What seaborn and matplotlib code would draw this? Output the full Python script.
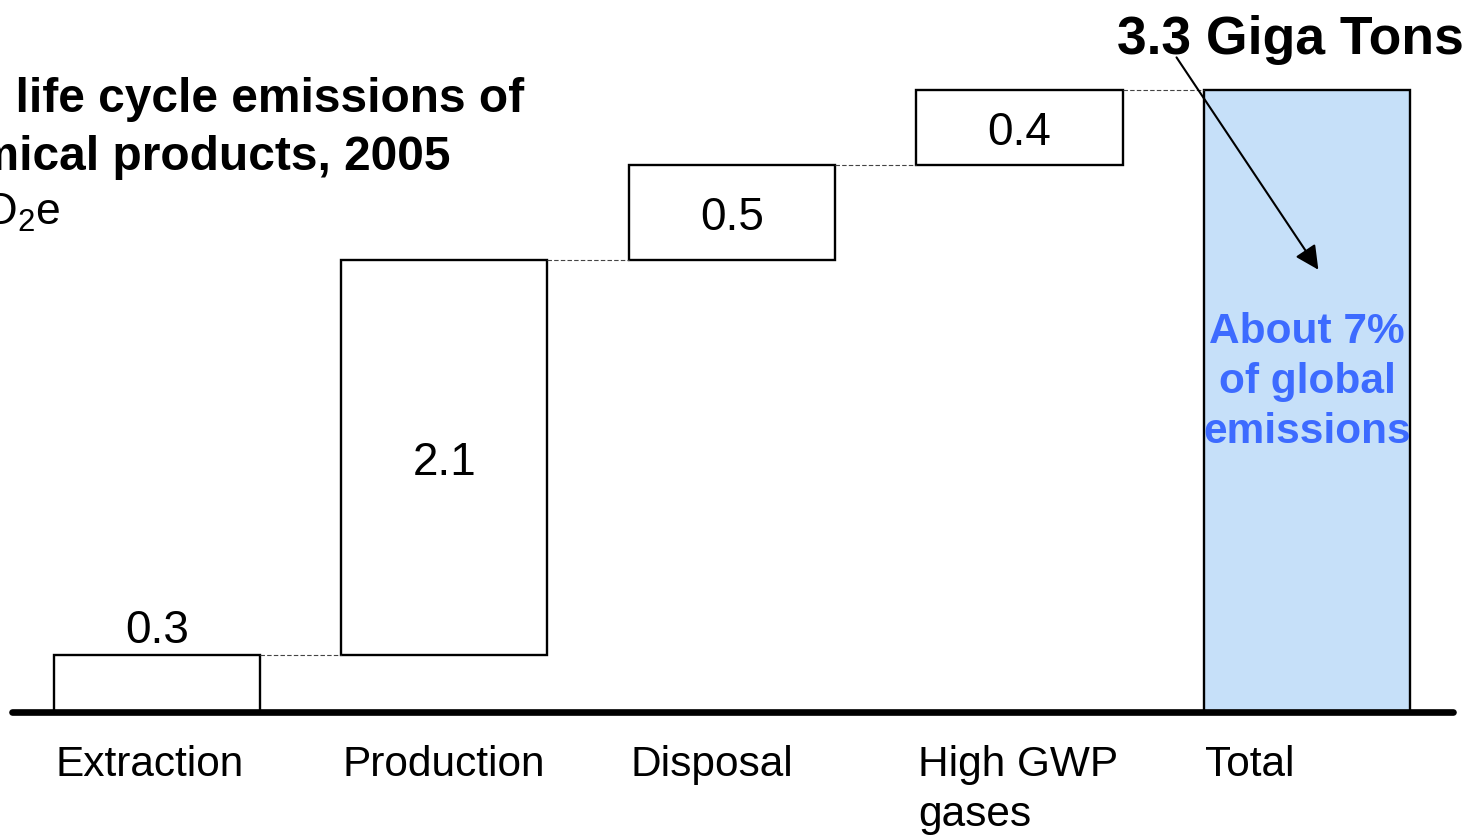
import numpy as np
import pandas as pd
import matplotlib
matplotlib.use("Agg")
import matplotlib.pyplot as plt
import seaborn as sns

# datos del grafico (cascada)
categorias = ["Extraction", "Production", "Disposal", "High GWP\ngases", "Total"]
valores = [0.3, 2.1, 0.5, 0.4, 3.3]
etiquetas = ["0.3", "2.1", "0.5", "0.4", ""]

# base de cada barra: acumulado de las anteriores, el total parte de cero
acumulado = np.cumsum(valores[:-1])
bases = [0.0] + list(acumulado[:-1]) + [0.0]

df = pd.DataFrame({"cat": categorias, "valor": valores, "base": bases})

sns.set_style("white")
plt.rcParams["font.family"] = ["Liberation Sans", "DejaVu Sans"]
plt.rcParams["text.color"] = "black"
plt.rcParams["mathtext.fontset"] = "custom"
plt.rcParams["mathtext.rm"] = "Liberation Sans"

fig = plt.figure(figsize=(14.81, 8.38), dpi=100)
ax = fig.add_axes([12 / 1481, 126 / 838, 1441 / 1481, 659.75 / 838])

ancho = 0.717
sns.barplot(data=df, x="cat", y="valor", bottom=df["base"].values, color="white",
            edgecolor="black", linewidth=1.7, width=ancho, errorbar=None, ax=ax)
ax.patches[-1].set_facecolor("#c6e0f9")

ax.set_xlim(-0.504, 4.508)
ax.set_ylim(0, 3.5)
sns.despine(ax=ax, left=True, bottom=True)
ax.set_xticks([])
ax.set_yticks([])
ax.set_xlabel("")
ax.set_ylabel("")

# linea base
ax.axhline(0, color="black", lw=4.8, solid_capstyle="round", clip_on=False, zorder=5)

# lineas punteadas entre barras
tops = [b + v for b, v in zip(bases, valores)]
for i in range(len(categorias) - 1):
    ax.plot([i + ancho / 2, i + 1 - ancho / 2], [tops[i], tops[i]],
            ls="--", color="#444444", lw=0.8, dashes=(4, 2))

# etiquetas de valores
for i, txt in enumerate(etiquetas):
    if not txt:
        continue
    if i == 0:
        y = tops[i] + 0.16
    else:
        y = bases[i] + valores[i] / 2
    ax.text(i, y - 0.03, txt, ha="center", va="center", fontsize=33)

# nombres de categorias alineados a la izquierda de cada barra
for i, c in enumerate(categorias):
    ax.text(i - ancho / 2 + 0.005, -0.175, c, ha="left", va="top", fontsize=30.5,
            linespacing=1.32)

# texto del total
ax.text(4, 1.75, "About 7%\nof global\nemissions", ha="center", va="center",
        fontsize=30.5, fontweight="bold", color="#3d6bff", linespacing=1.32)
ax.text(3.941, 3.565, "3.3 Giga Tons", ha="center", va="center", fontsize=38.5,
        fontweight="bold", clip_on=False)
ax.annotate("", xy=(4.045, 2.334), xytext=(3.541, 3.485), annotation_clip=False,
            arrowprops=dict(arrowstyle="-|>", color="black", lw=1.5, mutation_scale=36))

# titulo recortado a la izquierda
fig.text(524 / 1481, 1 - 99 / 838, "Global life cycle emissions of", ha="right",
         va="center", fontsize=34.5, fontweight="bold")
fig.text(450 / 1481, 1 - 157 / 838, "chemical products, 2005", ha="right",
         va="center", fontsize=34.5, fontweight="bold")
fig.text(60 / 1481, 1 - 213 / 838, "GtCO$_2$e", ha="right", va="center", fontsize=32)

fig.savefig("out.png", dpi=100)
